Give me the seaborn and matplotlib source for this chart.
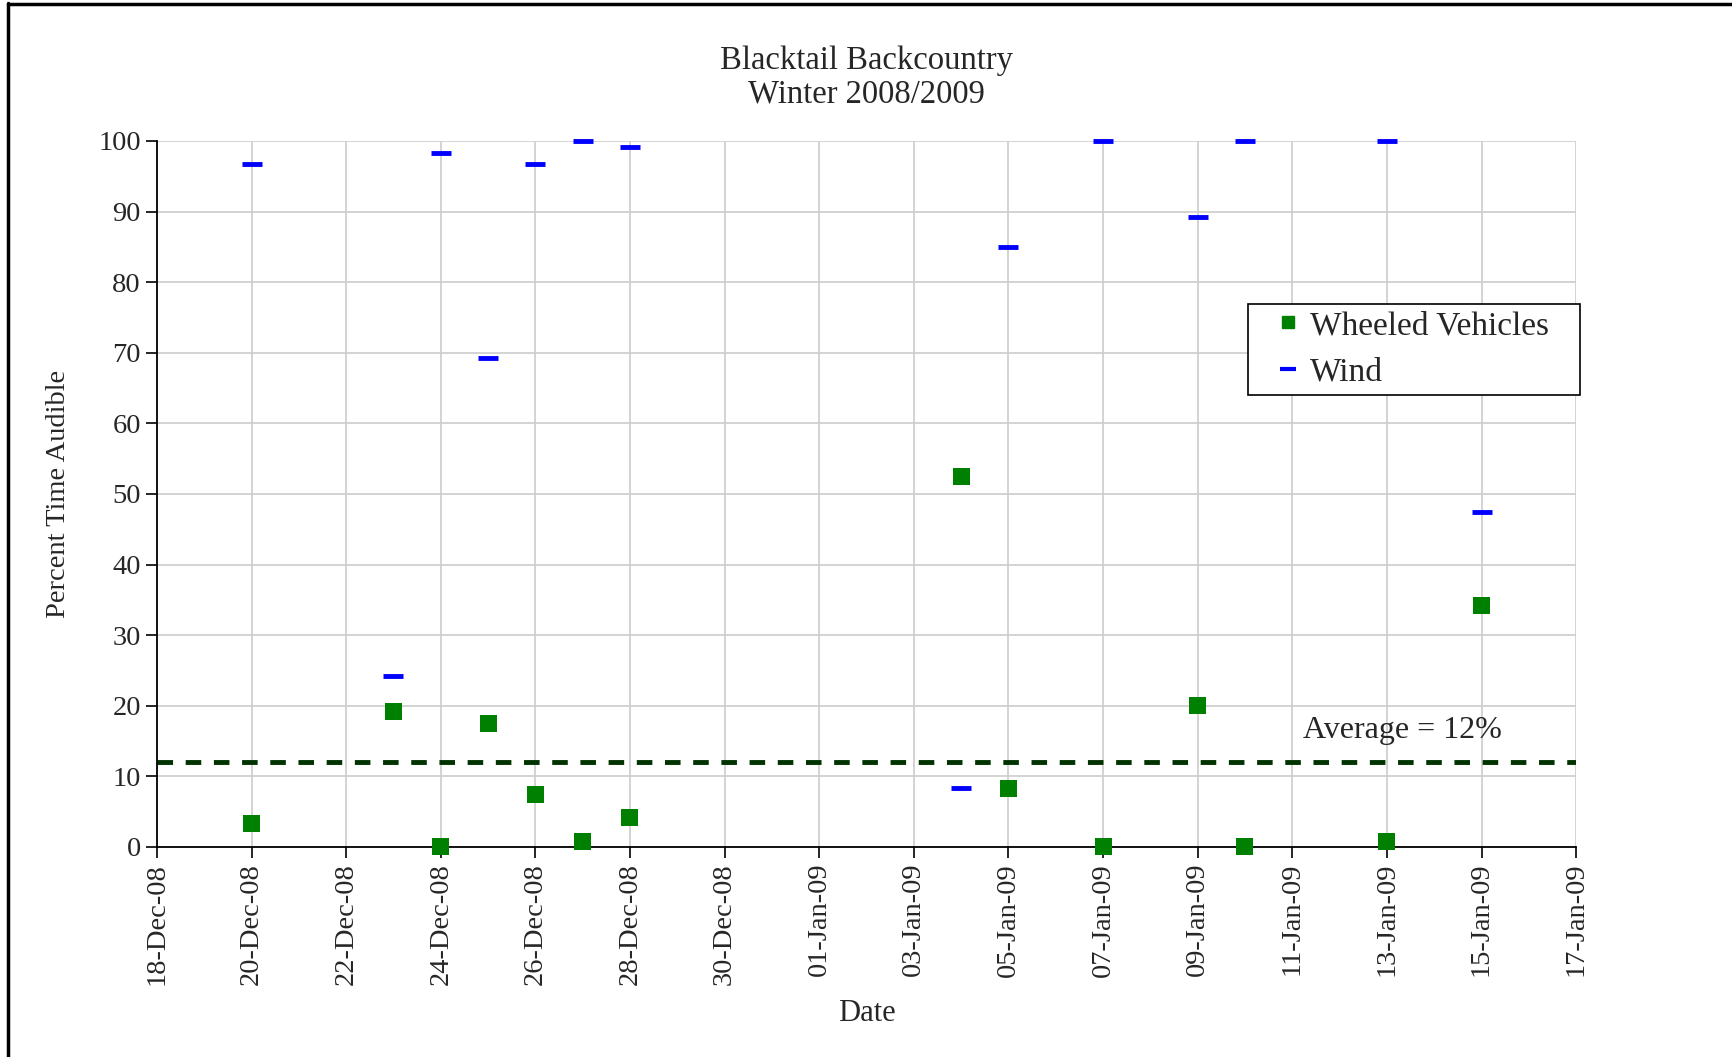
import pandas as pd
import matplotlib
matplotlib.use("Agg")
import matplotlib.pyplot as plt
import matplotlib.dates as mdates
from matplotlib.lines import Line2D
from matplotlib.patches import Rectangle
import seaborn as sns

dates = ["2008-12-20", "2008-12-23", "2008-12-24", "2008-12-25", "2008-12-26",
         "2008-12-27", "2008-12-28", "2009-01-04", "2009-01-05", "2009-01-07",
         "2009-01-09", "2009-01-10", "2009-01-13", "2009-01-15"]
wheeled = [3.3, 19.2, 0.0, 17.5, 7.5, 0.8, 4.2, 52.5, 8.3, 0.0, 20.0, 0.0, 0.8, 34.2]
wind = [96.7, 24.2, 98.3, 69.2, 96.7, 100.0, 99.2, 8.3, 85.0, 100.0, 89.2, 100.0, 100.0, 47.5]
average = 12

df = pd.DataFrame({"Date": pd.to_datetime(dates), "Wheeled Vehicles": wheeled, "Wind": wind})

sns.set_style("white")
plt.rcParams["font.family"] = ["Liberation Serif", "DejaVu Serif"]

fig = plt.figure(figsize=(17.32, 10.57), dpi=100)
ax = fig.add_axes([0.0906, 0.1987, 0.8194, 0.668])

sns.scatterplot(data=df, x="Date", y="Wheeled Vehicles", ax=ax, marker="s", s=150,
                color="#008000", edgecolor="none", zorder=4, clip_on=False)
sns.scatterplot(data=df, x="Date", y="Wind", ax=ax, marker="_", s=220,
                color="#0000ff", linewidth=3.5, zorder=4, clip_on=False)
ax.axhline(average, color="#003300", lw=3.5, ls=(0, (3.2, 2.6)), zorder=2)
ax.text(pd.Timestamp("2009-01-11 05:30"), average + 3.5, "Average = 12%", fontsize=23)

ax.set_xlim(pd.Timestamp("2008-12-18"), pd.Timestamp("2009-01-17"))
ax.set_ylim(0, 100)
ax.set_yticks(range(0, 101, 10))
ax.set_xticks(pd.date_range("2008-12-18", "2009-01-17", freq="2D"))
ax.xaxis.set_major_formatter(mdates.DateFormatter("%d-%b-%y"))
plt.setp(ax.get_xticklabels(), rotation=90)
ax.tick_params(axis="both", labelsize=20.5, length=8, width=1.2, direction="out",
               bottom=True, left=True, color="black")
ax.grid(True, color="#cccccc", lw=1.2)
for side in ["top", "right"]:
    ax.spines[side].set_visible(False)
for side in ["left", "bottom"]:
    ax.spines[side].set_color("black")
    ax.spines[side].set_linewidth(1.3)

ax.set_xlabel("Date", fontsize=22, labelpad=10)
ax.set_ylabel("Percent Time Audible", fontsize=20.5, labelpad=20)
ax.set_title("Blacktail Backcountry\nWinter 2008/2009", fontsize=23.5, pad=28, linespacing=1.1)

# legend box
fig.add_artist(Rectangle((1130 / 1568, 1 - 358 / 957), 300 / 1568, 83 / 957,
                         transform=fig.transFigure, facecolor="white", edgecolor="black",
                         lw=1.2, zorder=5))
handles = [Line2D([], [], marker="s", color="#008000", ls="none", markersize=9),
           Line2D([], [], marker="_", color="#0000ff", ls="none", markersize=11, mew=3)]
leg = fig.legend(handles, ["Wheeled Vehicles", "Wind"], loc="center left",
                 bbox_to_anchor=(1157 / 1568, 1 - 316 / 957), fontsize=24, frameon=False,
                 handlelength=0.6, handletextpad=0.35, borderpad=0, labelspacing=0.48,
                 borderaxespad=0)
leg.set_zorder(6)

fig.add_artist(Line2D([0.0045, 0.0045], [0, 0.997], color="black", lw=2.5, transform=fig.transFigure))
fig.add_artist(Line2D([0.0045, 1], [0.996, 0.996], color="black", lw=2.5, transform=fig.transFigure))

fig.savefig("out.png", dpi=100)
